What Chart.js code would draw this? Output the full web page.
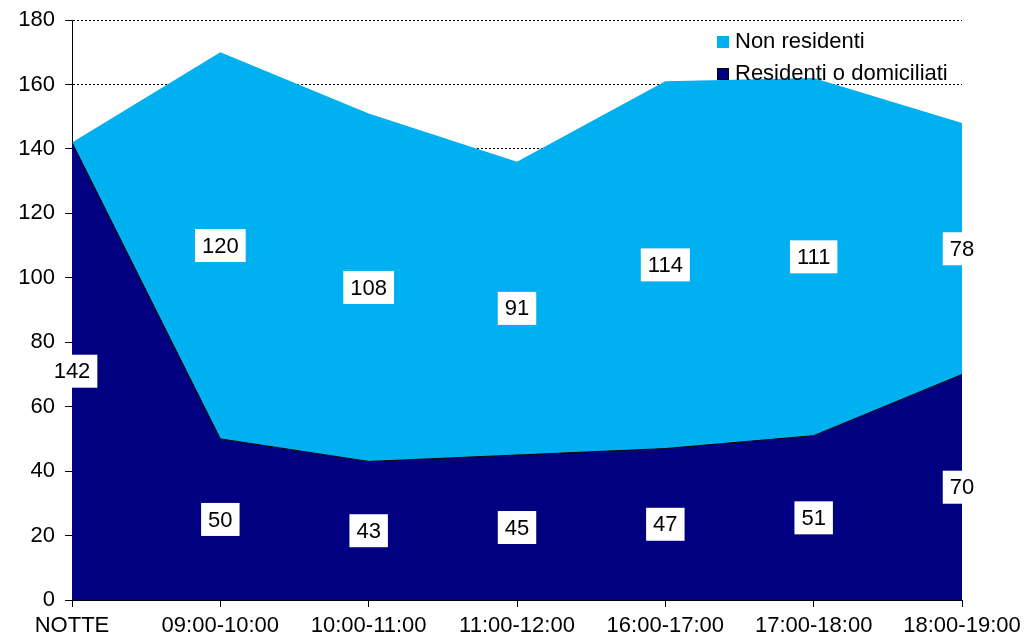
<!DOCTYPE html>
<html>
<head>
<meta charset="utf-8">
<script src="https://cdn.jsdelivr.net/npm/chart.js@4"></script>
<style>
  html, body { margin: 0; padding: 0; background: #fff; }
  #wrap { width: 1029px; height: 637px; }
</style>
</head>
<body>
<div id="wrap"><canvas id="chart" width="1029" height="637"></canvas></div>
<script>
// Categories and values
const fasce = ['NOTTE', '09:00-10:00', '10:00-11:00', '11:00-12:00', '16:00-17:00', '17:00-18:00', '18:00-19:00'];
const residenti = [142, 50, 43, 45, 47, 51, 70];
const nonResidenti = [0, 120, 108, 91, 114, 111, 78];
const yTicks = [0, 20, 40, 60, 80, 100, 120, 140, 160, 180];

const FONT = 'Arial, "Liberation Sans", sans-serif';

// White boxed value labels in the middle of each band
const bandLabels = {
    id: 'bandLabels',
    afterDatasetsDraw(chart) {
        const ctx = chart.ctx;
        const x = chart.scales.x, y = chart.scales.y;
        ctx.save();
        ctx.font = '22px ' + FONT;
        ctx.textAlign = 'center';
        ctx.textBaseline = 'middle';
        let base = new Array(fasce.length).fill(0);
        chart.data.datasets.forEach((ds) => {
            ds.data.forEach((v, i) => {
                const bottom = base[i];
                base[i] += v;
                if (!v) return;
                const px = x.getPixelForValue(i);
                const py = y.getPixelForValue(bottom + v / 2);
                const w = ctx.measureText(String(v)).width + 14;
                const h = 33;
                ctx.fillStyle = '#fff';
                ctx.fillRect(px - w / 2, py - h / 2, w, h);
                ctx.fillStyle = '#000';
                ctx.fillText(String(v), px, py + 1);
            });
        });
        ctx.restore();
    }
};

// Legend drawn inside the plot, top right
const boxLegend = {
    id: 'boxLegend',
    afterDraw(chart) {
        const ctx = chart.ctx;
        const items = chart.data.datasets.slice().reverse();
        ctx.save();
        ctx.font = '22px ' + FONT;
        ctx.textBaseline = 'middle';
        ctx.textAlign = 'left';
        items.forEach((ds, k) => {
            const cy = 42 + k * 32;
            ctx.fillStyle = ds.backgroundColor;
            ctx.fillRect(717, cy - 6, 12, 12);
            if (ds.label.startsWith('Residenti')) {
                ctx.strokeStyle = '#000';
                ctx.lineWidth = 1;
                ctx.strokeRect(717.5, cy - 5.5, 11, 11);
            }
            ctx.fillStyle = '#000';
            ctx.fillText(ds.label, 735, cy);
        });
        ctx.restore();
    }
};

new Chart(document.getElementById('chart'), {
    type: 'line',
    data: {
        labels: fasce,
        datasets: [
            {
                label: 'Residenti o domiciliati',
                data: residenti,
                backgroundColor: '#000080',
                borderColor: '#000',
                borderWidth: 1,
                fill: 'origin',
                pointRadius: 0,
                tension: 0
            },
            {
                label: 'Non residenti',
                data: nonResidenti,
                backgroundColor: '#00B0F0',
                borderColor: '#00B0F0',
                borderWidth: 0,
                fill: '-1',
                pointRadius: 0,
                tension: 0
            }
        ]
    },
    options: {
        responsive: false,
        animation: false,
        layout: { padding: { top: 20, right: 67, left: 0, bottom: 0 } },
        plugins: {
            legend: { display: false },
            tooltip: { enabled: false }
        },
        scales: {
            x: {
                offset: false,
                grid: {
                    drawOnChartArea: false,
                    drawTicks: true,
                    tickLength: 7,
                    tickColor: '#000'
                },
                border: { color: '#000', width: 1 },
                ticks: {
                    color: '#000',
                    font: { family: FONT, size: 22 },
                    maxRotation: 0,
                    autoSkip: false,
                    padding: 6
                },
                afterFit(scale) { scale.height = 37; }
            },
            y: {
                stacked: true,
                min: 0,
                max: 180,
                afterBuildTicks(scale) {
                    scale.ticks = yTicks.map(v => ({ value: v }));
                },
                grid: {
                    color: '#000',
                    lineWidth: 1,
                    tickLength: 7,
                    tickColor: '#000',
                    tickBorderDash: []
                },
                border: { color: '#000', width: 1, dash: [2, 2] },
                ticks: {
                    color: '#000',
                    font: { family: FONT, size: 22 },
                    padding: 10
                },
                afterFit(scale) {
                    scale.width = 72;
                    scale.paddingTop = 0;
                    scale.paddingBottom = 0;
                }
            }
        }
    },
    plugins: [bandLabels, boxLegend]
});
</script>
</body>
</html>
